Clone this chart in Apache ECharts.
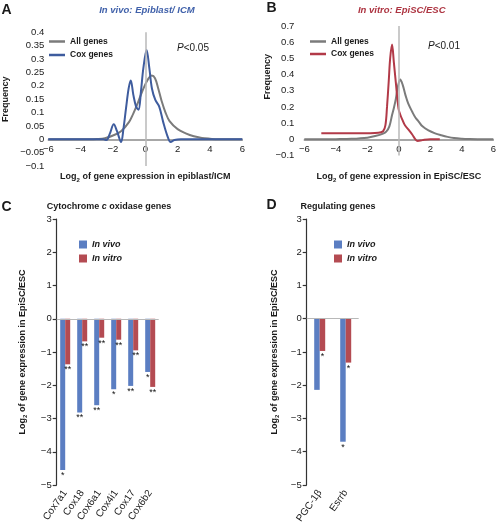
<!DOCTYPE html>
<html>
<head>
<meta charset="utf-8">
<script src="https://cdn.jsdelivr.net/npm/echarts@6/dist/echarts.min.js"></script>
<style>
html,body{margin:0;padding:0;background:#fff;}
#chart{width:499px;height:526px;}
</style>
</head>
<body>
<div id="chart"></div>
<script>
// ---------- Panel A: In vivo (Epiblast/ICM) density curves ----------
const aAllX = [-6,-5,-4,-3.5,-3,-2.5,-2,-1.5,-1,-0.75,-0.5,-0.25,0,0.2,0.4,0.6,0.8,1,1.25,1.5,2,2.5,3,3.5,4,4.5,5,6];
const aAllY = [0,0,0,0,0.001,0.004,0.014,0.03,0.065,0.095,0.13,0.17,0.205,0.228,0.238,0.228,0.19,0.145,0.1,0.068,0.038,0.022,0.011,0.005,0.002,0,0,0];
const aCoxX = [-6,-5,-4,-3,-2.6,-2.4,-2.2,-1.95,-1.75,-1.5,-1.35,-1.19,-1.03,-0.9,-0.74,-0.57,-0.42,-0.27,-0.12,0.08,0.25,0.41,0.62,0.86,1.1,1.37,1.57,1.8,2.2,3,4,5,6];
const aCoxY = [0,0,0,0,0,-0.003,0.02,0.056,0.03,-0.01,0.04,0.117,0.19,0.22,0.166,0.122,0.11,0.178,0.266,0.334,0.266,0.19,0.147,0.122,0.066,0.012,-0.01,-0.003,0,0,0,0,0];

// ---------- Panel B: In vitro (EpiSC/ESC) density curves ----------
const bAllX = [-6,-5,-4,-3,-2,-1.5,-1,-0.8,-0.6,-0.43,-0.3,-0.19,-0.05,0.09,0.25,0.43,0.6,0.85,1.05,1.26,1.5,1.88,2.3,2.7,3.1,3.5,4,4.5,5,6];
const bAllY = [0,0,0.001,0.003,0.01,0.02,0.035,0.047,0.08,0.15,0.2,0.25,0.33,0.37,0.335,0.27,0.22,0.17,0.135,0.11,0.08,0.055,0.037,0.025,0.015,0.008,0.004,0.002,0.001,0];
const bCoxX = [-4.92,-4,-3,-2,-1.3,-1,-0.85,-0.75,-0.64,-0.55,-0.43,-0.32,-0.19,-0.02,0.1,0.23,0.4,0.64,0.85,1.05,1.2,1.5,2,2.6];
const bCoxY = [0.037,0.037,0.037,0.038,0.04,0.05,0.088,0.2,0.36,0.5,0.585,0.48,0.35,0.19,0.15,0.12,0.085,0.057,0.03,0,-0.01,-0.005,0,0];

// ---------- Panel C: Cytochrome c oxidase genes ----------
const cCats = ['Cox7a1','Cox18','Cox6a1','Cox4i1','Cox17','Cox6b2'];
const cVivo = [-4.55,-2.82,-2.6,-2.12,-2.02,-1.6];
const cVitro = [-1.37,-0.68,-0.57,-0.63,-0.95,-2.05];
const cVivoSig = ['*','**','**','*','**','*'];
const cVitroSig = ['**','**','**','**','**','**'];

// ---------- Panel D: Regulating genes ----------
const dCats = ['PGC-1\u03B2','Esrrb'];
const dVivo = [-2.14,-3.7];
const dVitro = [-0.97,-1.32];
const dVivoSig = ['','*'];
const dVitroSig = ['*','*'];

// ---------- helpers ----------
const FONT = '"Liberation Sans", Arial, Helvetica, sans-serif';
const TXT = '#1a1a1a';
const GRAY = '#7b7b7b';
const BLUE_LINE = '#3e5c9e';
const RED_LINE = '#b23a48';
const BLUE_BAR = '#5b7ec2';
const RED_BAR = '#b44b52';
const zip = (xs, ys) => xs.map((x, i) => [x, ys[i]]);
const minus = v => String(parseFloat(Number(v).toFixed(2))).replace('-', '\u2212');

const logName = rest => '{a|Log}{s|2}{a|' + rest + '}';
const nameRich = {
  a: {fontFamily: FONT, fontWeight: 'bold', fontSize: 9, color: TXT, lineHeight: 12, verticalAlign: 'middle'},
  s: {fontFamily: FONT, fontWeight: 'bold', fontSize: 6, color: TXT, lineHeight: 12, verticalAlign: 'bottom'}
};

function densityX(grid, name, gap, labMargin) {
  return {
    type: 'value', gridIndex: grid, min: -6, max: 6, interval: 2,
    axisLine: {show: true, onZero: true, lineStyle: {color: '#8a8a8a', width: 1.5}},
    axisTick: {show: false},
    splitLine: {show: false},
    axisLabel: {fontFamily: FONT, fontSize: 9.5, color: TXT, margin: labMargin, formatter: minus},
    name: logName(name), nameLocation: 'middle', nameGap: gap, nameMoveOverlap: false,
    nameTextStyle: {rich: nameRich}
  };
}
function densityY(grid, min, max, interval, gap, labMargin, namePad) {
  return {
    type: 'value', gridIndex: grid, min: min, max: max, interval: interval,
    axisLine: {show: false}, axisTick: {show: false}, splitLine: {show: false},
    axisLabel: {fontFamily: FONT, fontSize: 9.5, color: TXT, margin: labMargin, formatter: minus},
    name: 'Frequency', nameLocation: 'middle', nameGap: gap,
    nameTextStyle: {fontFamily: FONT, fontWeight: 'bold', fontSize: 9, color: TXT, padding: namePad}
  };
}
function barX(grid, cats) {
  return {
    type: 'category', gridIndex: grid, data: cats, position: 'bottom',
    axisLine: {show: false, onZero: false}, axisTick: {show: false},
    axisLabel: {fontFamily: FONT, fontSize: 10, color: TXT, rotate: 55, margin: 6, interval: 0}
  };
}
function barY(grid, gap) {
  return {
    type: 'value', gridIndex: grid, min: -5, max: 3, interval: 1,
    axisLine: {show: true, lineStyle: {color: '#333', width: 1.2}},
    axisTick: {show: true, length: 4, lineStyle: {color: '#333', width: 1.2}},
    splitLine: {show: false},
    axisLabel: {fontFamily: FONT, fontSize: 9.5, color: TXT, margin: 5, formatter: minus},
    name: logName(' of gene expression in EpiSC/ESC'), nameLocation: 'middle', nameGap: gap,
    nameTextStyle: {rich: nameRich}
  };
}
const vline = {
  silent: true, symbol: 'none', label: {show: false},
  lineStyle: {color: '#b8b8b8', width: 1.5, type: 'solid'},
  data: [{xAxis: 0}]
};
const zline = {
  silent: true, symbol: 'none', label: {show: false},
  lineStyle: {color: '#b8b8b8', width: 1, type: 'solid'},
  data: [{yAxis: 0}]
};
function curve(name, grid, xs, ys, color, mark) {
  const s = {
    type: 'line', name: name, xAxisIndex: grid, yAxisIndex: grid,
    data: zip(xs, ys), smooth: 0.35, symbol: 'none',
    lineStyle: {color: color, width: 2}, itemStyle: {color: color}
  };
  if (mark) s.markLine = vline;
  return s;
}
function bars(name, grid, vals, sig, color, mark, width) {
  const s = {
    type: 'bar', name: name, xAxisIndex: grid, yAxisIndex: grid,
    data: vals, barWidth: width, barGap: '0%',
    itemStyle: {color: color},
    label: {show: true, position: 'outside', distance: 1, fontFamily: FONT, fontSize: 9, color: '#111',
            formatter: p => sig[p.dataIndex]}
  };
  if (mark) s.markLine = zline;
  return s;
}
function legend(left, top, names, iw, ih, gap, italic) {
  return {
    orient: 'vertical', left: left, top: top, padding: 0, itemGap: gap,
    itemWidth: iw, itemHeight: ih, icon: 'rect', selectedMode: false,
    data: names, formatter: n => n.slice(2),
    textStyle: {fontFamily: FONT, fontWeight: 'bold', fontStyle: italic ? 'italic' : 'normal', fontSize: italic ? 9 : 8.5, color: TXT}
  };
}
function txt(x, y, text, style) {
  return {type: 'text', x: x, y: y, silent: true,
    style: Object.assign({text: text, fontFamily: FONT, fill: TXT, verticalAlign: 'middle', align: 'left'}, style)};
}

const option = {
  animation: false,
  backgroundColor: '#fff',
  textStyle: {fontFamily: FONT},
  grid: [
    {left: 48.3, top: 32.3, width: 194, height: 133.7},
    {left: 304.3, top: 26, width: 194, height: 129.5},
    {left: 56.7, top: 219, width: 102, height: 266},
    {left: 306.7, top: 219, width: 52, height: 266}
  ],
  xAxis: [
    densityX(0, ' of gene expression in epiblast/ICM', 5, -22),
    densityX(1, ' of gene expression in EpiSC/ESC', 15.5, -11.5),
    barX(2, cCats),
    barX(3, dCats)
  ],
  yAxis: [
    densityY(0, -0.1, 0.4, 0.05, 38, 4, 0),
    densityY(1, -0.1, 0.7, 0.1, 32, 10, [0, 0, 0, 28]),
    barY(2, 28),
    barY(3, 26.5)
  ],
  legend: [
    legend(49, 37, ['A_All genes', 'A_Cox genes'], 16, 2.5, 4.5, false),
    legend(310, 37, ['B_All genes', 'B_Cox genes'], 16, 2.5, 3.5, false),
    legend(79, 240, ['C_In vivo', 'C_In vitro'], 8, 8, 5, true),
    legend(334, 240, ['D_In vivo', 'D_In vitro'], 8, 8, 5, true)
  ],
  series: [
    curve('A_All genes', 0, aAllX, aAllY, GRAY, true),
    curve('A_Cox genes', 0, aCoxX, aCoxY, BLUE_LINE, false),
    curve('B_All genes', 1, bAllX, bAllY, GRAY, true),
    curve('B_Cox genes', 1, bCoxX, bCoxY, RED_LINE, false),
    bars('C_In vivo', 2, cVivo, cVivoSig, BLUE_BAR, true, 5),
    bars('C_In vitro', 2, cVitro, cVitroSig, RED_BAR, false, 5),
    bars('D_In vivo', 3, dVivo, dVivoSig, BLUE_BAR, true, 5.5),
    bars('D_In vitro', 3, dVitro, dVitroSig, RED_BAR, false, 5.5)
  ],
  graphic: [
    txt(1.5, 10, 'A', {fontSize: 14, fontWeight: 'bold'}),
    txt(266.5, 8.5, 'B', {fontSize: 14, fontWeight: 'bold'}),
    txt(1.5, 207, 'C', {fontSize: 14, fontWeight: 'bold'}),
    txt(266.5, 205.5, 'D', {fontSize: 14, fontWeight: 'bold'}),
    txt(147, 10, 'In vivo: Epiblast/ ICM', {fontSize: 9.5, fontWeight: 'bold', fontStyle: 'italic', fill: '#4061aa', align: 'center'}),
    txt(401.7, 10, 'In vitro: EpiSC/ESC', {fontSize: 9.5, fontWeight: 'bold', fontStyle: 'italic', fill: '#ad3441', align: 'center'}),
    {type: 'text', x: 109, y: 207, silent: true, style: {
      text: '{b|Cytochrome }{i|c}{b| oxidase genes}', align: 'center', verticalAlign: 'middle',
      rich: {b: {fontFamily: FONT, fontWeight: 'bold', fontSize: 9, fill: TXT},
             i: {fontFamily: FONT, fontWeight: 'bold', fontStyle: 'italic', fontSize: 9, fill: TXT}}}},
    txt(338, 207, 'Regulating genes', {fontSize: 9, fontWeight: 'bold', align: 'center'}),
    {type: 'text', x: 177, y: 48, silent: true, style: {
      text: '{i|P}{n|<0.05}', verticalAlign: 'middle',
      rich: {i: {fontFamily: FONT, fontStyle: 'italic', fontSize: 10, fill: TXT},
             n: {fontFamily: FONT, fontSize: 10, fill: TXT}}}},
    {type: 'text', x: 428, y: 46, silent: true, style: {
      text: '{i|P}{n|<0.01}', verticalAlign: 'middle',
      rich: {i: {fontFamily: FONT, fontStyle: 'italic', fontSize: 10, fill: TXT},
             n: {fontFamily: FONT, fontSize: 10, fill: TXT}}}}
  ]
};

const chart = echarts.init(document.getElementById('chart'), null, {renderer: 'canvas'});
chart.setOption(option);
</script>
</body>
</html>
